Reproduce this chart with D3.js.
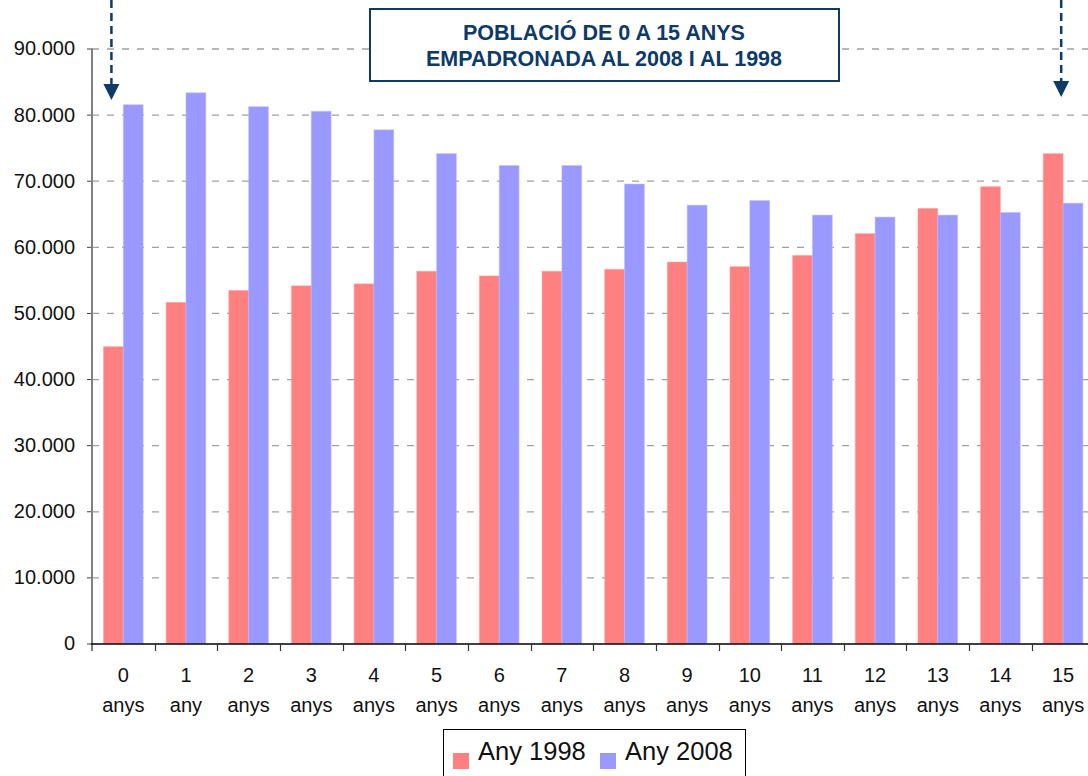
<!DOCTYPE html>
<html>
<head>
<meta charset="utf-8">
<script src="https://cdn.jsdelivr.net/npm/d3@7"></script>
<style>
  html, body { margin: 0; padding: 0; background: #fff; }
  svg { display: block; font-family: "Liberation Sans", Arial, sans-serif; }
</style>
</head>
<body>
<div id="vis"></div>
<script>
// data
var ages = ['0', '1', '2', '3', '4', '5', '6', '7', '8', '9', '10', '11', '12', '13', '14', '15'];
var units = ['anys', 'any', 'anys', 'anys', 'anys', 'anys', 'anys', 'anys',
             'anys', 'anys', 'anys', 'anys', 'anys', 'anys', 'anys', 'anys'];
var series = ['Any 1998', 'Any 2008'];
var values1998 = [44900, 51600, 53400, 54100, 54400, 56300, 55600, 56300,
                  56600, 57700, 57000, 58700, 62000, 65800, 69100, 74100];
var values2008 = [81500, 83300, 81200, 80500, 77700, 74100, 72300, 72300,
                  69500, 66300, 67000, 64800, 64500, 64800, 65200, 66600];
var yTicks = [0, 10000, 20000, 30000, 40000, 50000, 60000, 70000, 80000, 90000];
var titleLines = ['POBLACIÓ DE 0 A 15 ANYS', 'EMPADRONADA AL 2008 I AL 1998'];
// arrows point at the first and last age groups
var arrows = [{ age: '0', pos: 0.31, tip: 100 }, { age: '15', pos: 0.47, tip: 97 }];

var width = 1088;
var height = 776;

var colors = { 'Any 1998': '#ff8080', 'Any 2008': '#9999ff' };
var navy = '#0e3a68';

var rows = ages.map(function (a, i) {
  return { age: a, unit: units[i], 'Any 1998': values1998[i], 'Any 2008': values2008[i] };
});

var locale = d3.formatLocale({ decimal: ',', thousands: '.', grouping: [3], currency: ['', ' €'] });
var fmt = locale.format(',');

var svg = d3.select('#vis').append('svg')
  .attr('width', width)
  .attr('height', height);

var x0 = d3.scaleBand()
  .domain(ages)
  .range([92, 92 + 16 * 62.65])
  .padding(0);

var x1 = d3.scaleBand()
  .domain(series)
  .range([0, x0.bandwidth()])
  .paddingInner(0)
  .paddingOuter(0.58);

var y = d3.scaleLinear()
  .domain([0, 90000])
  .range([643.5, 48.5]);

// gridlines
svg.append('g')
  .selectAll('line')
  .data(yTicks.filter(function (d) { return d > 0; }))
  .enter().append('line')
  .attr('x1', 92)
  .attr('x2', width)
  .attr('y1', function (d) { return y(d) + 0.5; })
  .attr('y2', function (d) { return y(d) + 0.5; })
  .attr('stroke', '#a0a0a0')
  .attr('stroke-width', 1.3)
  .attr('stroke-dasharray', '7,8');

// bars
var groups = svg.append('g')
  .selectAll('g')
  .data(rows)
  .enter().append('g')
  .attr('transform', function (d) { return 'translate(' + x0(d.age) + ',0)'; });

groups.selectAll('rect')
  .data(function (d) {
    return series.map(function (s) { return { key: s, value: d[s] }; });
  })
  .enter().append('rect')
  .attr('x', function (d) { return x1(d.key); })
  .attr('width', x1.bandwidth())
  .attr('y', function (d) { return y(d.value); })
  .attr('height', function (d) { return y(0) - y(d.value); })
  .attr('fill', function (d) { return colors[d.key]; })
  .attr('stroke', function (d) { return d3.rgb(colors[d.key]).brighter(0.6); })
  .attr('stroke-opacity', 0.5)
  .attr('stroke-width', 1);

// y axis
var yAxis = svg.append('g')
  .attr('transform', 'translate(92,0)')
  .call(d3.axisLeft(y).tickValues(yTicks).tickSize(5).tickFormat(fmt));

yAxis.select('.domain').remove();
yAxis.selectAll('.tick line').attr('stroke', '#404040');
yAxis.selectAll('.tick text')
  .attr('x', -17)
  .attr('font-size', 20)
  .attr('font-family', '"Liberation Sans", Arial, sans-serif')
  .attr('fill', '#111');

svg.append('line')
  .attr('x1', 92).attr('x2', 92)
  .attr('y1', y(90000)).attr('y2', 651)
  .attr('stroke', '#808080')
  .attr('stroke-width', 2);

// x axis
svg.append('line')
  .attr('x1', 91).attr('x2', width)
  .attr('y1', y(0) + 0.5).attr('y2', y(0) + 0.5)
  .attr('stroke', '#000')
  .attr('stroke-width', 1.5);

svg.append('g')
  .selectAll('line')
  .data(ages.slice(1))
  .enter().append('line')
  .attr('x1', function (d) { return Math.round(x0(d)) + 0.5; })
  .attr('x2', function (d) { return Math.round(x0(d)) + 0.5; })
  .attr('y1', y(0))
  .attr('y2', 651)
  .attr('stroke', '#333')
  .attr('stroke-width', 1.2);

var xLabels = svg.append('g')
  .selectAll('text')
  .data(rows)
  .enter().append('text')
  .attr('text-anchor', 'middle')
  .attr('font-size', 20)
  .attr('fill', '#111')
  .attr('transform', function (d) { return 'translate(' + (x0(d.age) + x0.bandwidth() / 2) + ',0)'; });

xLabels.append('tspan').attr('x', 0).attr('y', 682).text(function (d) { return d.age; });
xLabels.append('tspan').attr('x', 0).attr('y', 712).text(function (d) { return d.unit; });

// title box
svg.append('rect')
  .attr('x', 370).attr('y', 9)
  .attr('width', 469).attr('height', 72)
  .attr('fill', '#fff')
  .attr('stroke', navy)
  .attr('stroke-width', 2);

svg.append('g')
  .selectAll('text')
  .data(titleLines)
  .enter().append('text')
  .attr('x', 604)
  .attr('y', function (d, i) { return 40 + i * 26; })
  .attr('text-anchor', 'middle')
  .attr('font-size', 21.5)
  .attr('font-weight', 'bold')
  .attr('fill', navy)
  .text(function (d) { return d; });

// arrows
arrows.forEach(function (a) {
  var ax = x0(a.age) + a.pos * x0.bandwidth();
  svg.append('line')
    .attr('x1', ax).attr('x2', ax)
    .attr('y1', 0).attr('y2', a.tip - 14)
    .attr('stroke', navy)
    .attr('stroke-width', 2.5)
    .attr('stroke-dasharray', '8,5');
  svg.append('path')
    .attr('d', 'M' + (ax - 8) + ',' + (a.tip - 16) + 'L' + (ax + 8) + ',' + (a.tip - 16) + 'L' + ax + ',' + a.tip + 'Z')
    .attr('fill', navy);
});

// legend
var legend = svg.append('g');
legend.append('rect')
  .attr('x', 443.5).attr('y', 729.5)
  .attr('width', 302).attr('height', 60)
  .attr('fill', '#fff')
  .attr('stroke', '#000')
  .attr('stroke-width', 1);

var legendX = [453, 600];
var items = legend.selectAll('g')
  .data(series)
  .enter().append('g')
  .attr('transform', function (d, i) { return 'translate(' + legendX[i] + ',0)'; });

items.append('rect')
  .attr('x', 0).attr('y', 753)
  .attr('width', 16).attr('height', 16)
  .attr('fill', function (d) { return colors[d]; });

items.append('text')
  .attr('x', 25).attr('y', 760)
  .attr('font-size', 25.5)
  .attr('fill', '#111')
  .text(function (d) { return d; });
</script>
</body>
</html>
